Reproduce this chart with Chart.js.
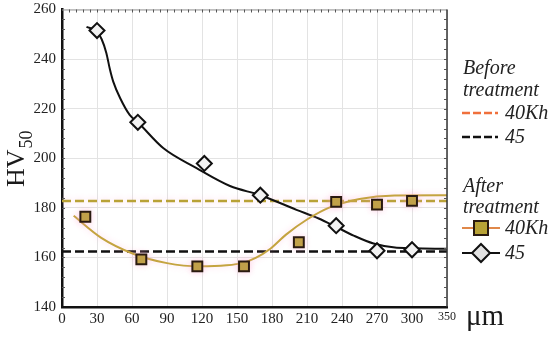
<!DOCTYPE html>
<html>
<head>
<meta charset="utf-8">
<script src="https://cdn.jsdelivr.net/npm/chart.js@4"></script>
<style>
  body { margin: 0; background: #fff; }
  #wrap { width: 550px; height: 337px; }
</style>
</head>
<body>
<div id="wrap"><canvas id="myChart" width="550" height="337"></canvas></div>
<script>
// data
const xTickLabels = ['0', '30', '60', '90', '120', '150', '180', '210', '240', '270', '300', '350'];
const xMin = 0, xMax = 330;
const yMin = 140, yMax = 260;

// before treatment (horizontal levels)
const before40Kh = 182.8;
const before45 = 162.4;

// after treatment, measured points
const after40KhX = [20, 68, 116, 156, 203, 235, 270, 300];
const after40KhY = [176.4, 159.2, 156.4, 156.4, 166.1, 182.4, 181.3, 182.8];
const after45X = [30, 65, 122, 170, 235, 270, 300];
const after45Y = [251.5, 214.5, 197.9, 185.1, 172.8, 162.7, 163.1];

// fitted curves
const fit40KhX = [10, 33, 61, 90, 118, 141, 155, 166, 178, 192, 210, 230, 255, 285, 330];
const fit40KhY = [176.8, 168.1, 161.5, 157.7, 156.4, 156.8, 157.8, 159.8, 163.3, 169.2, 175.3, 180.3, 183.6, 185.0, 185.1];
const fit45X = [21, 30, 34, 38, 41, 44, 50, 58, 65, 87, 115, 144, 170, 201, 220, 235, 250, 267, 287, 330];
const fit45Y = [253, 251, 248, 242.5, 236, 230.8, 224.1, 217.5, 214.5, 204, 196.1, 188.8, 185.1, 179.2, 175.7, 172.3, 168.8, 165.6, 163.9, 163.5];

const gold = '#b8a236';
const goldLine = '#c4a440';
const serif = "'Liberation Serif', 'DejaVu Serif', serif";

function pts(xs, ys) {
    return xs.map(function(x, i) { return {x: x, y: ys[i]}; });
}

// pink halo behind the gold marks
const haloPlugin = {
    id: 'halo',
    beforeDatasetDraw(chart, args) {
        const ds = chart.data.datasets[args.index];
        chart.ctx.save();
        if (ds.halo) {
            chart.ctx.shadowColor = 'rgba(255,160,205,0.45)';
            chart.ctx.shadowBlur = 6;
        }
    },
    afterDatasetDraw(chart) {
        chart.ctx.restore();
    }
};

// frame, minor ticks, axis titles and legend
const framePlugin = {
    id: 'frame',
    afterDraw(chart) {
        const ctx = chart.ctx;
        const a = chart.chartArea;
        const xs = chart.scales.x, ys = chart.scales.y;
        ctx.save();
        // top and right border
        ctx.strokeStyle = '#9a9a9a';
        ctx.lineWidth = 1;
        ctx.beginPath();
        ctx.moveTo(a.left, a.top + 0.5);
        ctx.lineTo(a.right, a.top + 0.5);
        ctx.stroke();
        ctx.strokeStyle = '#333';
        ctx.lineWidth = 1.5;
        ctx.beginPath();
        ctx.moveTo(a.right, a.top);
        ctx.lineTo(a.right, a.bottom);
        ctx.stroke();
        // minor ticks
        ctx.strokeStyle = '#555';
        ctx.lineWidth = 1;
        ctx.beginPath();
        for (let v = xMin + 6; v < xMax; v += 6) {
            const px = Math.round(xs.getPixelForValue(v)) + 0.5;
            ctx.moveTo(px, a.top);
            ctx.lineTo(px, a.top + 3);
        }
        for (let v = yMin + 4; v < yMax; v += 4) {
            const py = Math.round(ys.getPixelForValue(v)) + 0.5;
            ctx.moveTo(a.right, py);
            ctx.lineTo(a.right - 3, py);
            ctx.moveTo(a.left, py);
            ctx.lineTo(a.left + 3, py);
        }
        ctx.stroke();

        // y axis title HV50
        ctx.fillStyle = '#1a1a1a';
        ctx.save();
        ctx.translate(24, 187);
        ctx.rotate(-Math.PI / 2);
        ctx.textBaseline = 'alphabetic';
        ctx.textAlign = 'left';
        ctx.font = '26px ' + serif;
        ctx.fillText('HV', 0, 0);
        const w = ctx.measureText('HV').width;
        ctx.font = '18px ' + serif;
        ctx.fillText('50', w + 1, 8);
        ctx.restore();

        // x axis unit
        ctx.font = '29px ' + serif;
        ctx.textAlign = 'left';
        ctx.textBaseline = 'alphabetic';
        ctx.fillText('\u03bcm', 466, 325);

        // legend
        ctx.font = 'italic 20px ' + serif;
        ctx.fillStyle = '#222';
        ctx.fillText('Before', 463, 74);
        ctx.fillText('treatment', 463, 96);
        ctx.fillText('After', 463, 192);
        ctx.fillText('treatment', 463, 213);
        ctx.fillText('40Kh', 505, 119);
        ctx.fillText('45', 505, 143);
        ctx.fillText('40Kh', 505, 234);
        ctx.fillText('45', 505, 259);

        ctx.lineWidth = 2.5;
        ctx.setLineDash([8, 3]);
        ctx.strokeStyle = '#f0703c';
        ctx.beginPath();
        ctx.moveTo(462, 113);
        ctx.lineTo(498, 113);
        ctx.stroke();
        ctx.strokeStyle = '#111';
        ctx.beginPath();
        ctx.moveTo(462, 137);
        ctx.lineTo(498, 137);
        ctx.stroke();
        ctx.setLineDash([]);

        ctx.lineWidth = 2;
        ctx.strokeStyle = '#e0884a';
        ctx.beginPath();
        ctx.moveTo(462, 228);
        ctx.lineTo(500, 228);
        ctx.stroke();
        ctx.fillStyle = gold;
        ctx.strokeStyle = '#2a1a10';
        ctx.fillRect(474, 221, 14, 14);
        ctx.strokeRect(474, 221, 14, 14);

        ctx.strokeStyle = '#111';
        ctx.beginPath();
        ctx.moveTo(462, 253);
        ctx.lineTo(500, 253);
        ctx.stroke();
        ctx.fillStyle = '#e2e2e2';
        ctx.beginPath();
        ctx.moveTo(481, 244);
        ctx.lineTo(490, 253);
        ctx.lineTo(481, 262);
        ctx.lineTo(472, 253);
        ctx.closePath();
        ctx.fill();
        ctx.stroke();
        ctx.restore();
    }
};

const data = {
    datasets: [
        {
            data: pts(after40KhX, after40KhY),
            showLine: false,
            pointStyle: 'rect',
            pointRadius: 7,
            pointBackgroundColor: gold,
            pointBorderColor: '#2a1a10',
            pointBorderWidth: 2,
            halo: true,
            order: 0
        },
        {
            data: pts(after45X, after45Y),
            showLine: false,
            pointStyle: 'rectRot',
            pointRadius: 7.5,
            pointBackgroundColor: '#f2f2f2',
            pointBorderColor: '#111',
            pointBorderWidth: 2,
            order: 0
        },
        {
            data: pts(fit40KhX, fit40KhY),
            borderColor: goldLine,
            borderWidth: 2,
            pointRadius: 0,
            cubicInterpolationMode: 'monotone',
            halo: true,
            order: 1
        },
        {
            data: pts(fit45X, fit45Y),
            borderColor: '#111',
            borderWidth: 2,
            pointRadius: 0,
            cubicInterpolationMode: 'monotone',
            order: 1
        },
        {
            data: [{x: xMin, y: before40Kh}, {x: xMax, y: before40Kh}],
            borderColor: gold,
            borderWidth: 2.5,
            borderDash: [9, 4],
            pointRadius: 0,
            halo: true,
            order: 2
        },
        {
            data: [{x: xMin, y: before45}, {x: xMax, y: before45}],
            borderColor: '#111',
            borderWidth: 2.5,
            borderDash: [9, 4],
            pointRadius: 0,
            order: 2
        }
    ]
};

const config = {
    type: 'line',
    data: data,
    options: {
        responsive: false,
        animation: false,
        layout: {
            padding: { top: 0, right: 103, left: 0, bottom: 0 }
        },
        plugins: {
            legend: { display: false },
            title: { display: false },
            tooltip: { enabled: false }
        },
        scales: {
            x: {
                type: 'linear',
                min: xMin,
                max: xMax,
                afterFit: function(scale) { scale.height = 30; },
                afterBuildTicks: function(scale) {
                    scale.ticks = xTickLabels.map(function(t, i) {
                        return {value: Math.min(i * 30, xMax)};
                    });
                },
                ticks: {
                    maxRotation: 0,
                    padding: 3,
                    color: '#222',
                    font: function(c) {
                        return { family: serif, size: c.index === xTickLabels.length - 1 ? 12 : 15 };
                    },
                    callback: function(v, i) { return xTickLabels[i]; }
                },
                grid: {
                    color: '#e3e3e3',
                    drawTicks: false
                },
                border: { color: '#111', width: 2.5 }
            },
            y: {
                min: yMin,
                max: yMax,
                afterFit: function(scale) {
                    scale.width = 62;
                    scale.paddingTop = 8;
                    scale.paddingBottom = 0;
                },
                ticks: {
                    stepSize: 20,
                    padding: 6,
                    color: '#222',
                    font: { family: serif, size: 15 }
                },
                grid: {
                    color: '#e3e3e3',
                    drawTicks: false
                },
                border: { color: '#111', width: 2.5 }
            }
        }
    },
    plugins: [haloPlugin, framePlugin]
};

const myChart = new Chart(document.getElementById('myChart'), config);
</script>
</body>
</html>
